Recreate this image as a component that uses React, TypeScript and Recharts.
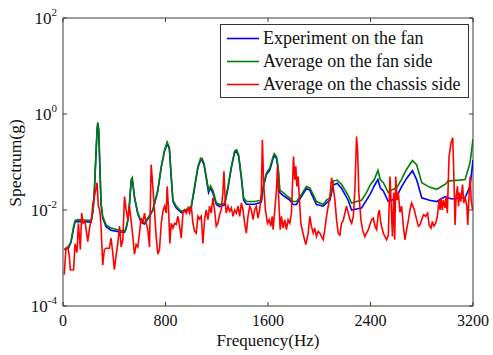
import { LineChart, Line, XAxis, YAxis, Legend, ReferenceArea, Label } from 'recharts'

const W = 493
const H = 355
const PLOT_LEFT = 63
const PLOT_RIGHT = 473
const PLOT_TOP = 18
const XAXIS_H = 49
const PLOT_BOTTOM = H - XAXIS_H
const FONT = '"Liberation Serif", "Times New Roman", serif'

const X_TICKS = [0, 800, 1600, 2400, 3200]
const Y_TICKS = [1e-4, 1e-2, 1, 1e2]
const Y_EXPONENTS = ['-4', '-2', '0', '2']

const SERIES_NAMES = ['Experiment on the fan', 'Average on the fan side', 'Average on the chassis side']

// fan side curves share one frequency grid
const FAN_FREQ = [
    10, 42, 62, 83, 94, 115, 160, 219, 235, 245, 255, 266, 271, 279, 287, 297, 310, 336, 375, 440,
    480, 493, 506, 519, 532, 540, 545, 558, 584, 610, 636, 662, 701, 740, 767, 793, 813, 830, 845, 858,
    884, 923, 962, 1001, 1027, 1053, 1074, 1085, 1100, 1118, 1136, 1152, 1171, 1197, 1223, 1262, 1288, 1314, 1340, 1355,
    1371, 1392, 1410, 1431, 1496, 1548, 1562, 1588, 1614, 1640, 1648, 1666, 1679, 1692, 1718, 1744, 1770, 1796, 1822, 1861,
    1900, 1926, 1953, 1978, 2031, 2057, 2083, 2110, 2140, 2175, 2226, 2252, 2290, 2330, 2369, 2400, 2430, 2458, 2476, 2500,
    2539, 2565, 2604, 2641, 2680, 2727, 2760, 2800, 2860, 2917, 2982, 3005, 3034, 3095, 3138, 3177, 3200,
]

const EXPERIMENT = [
    0.0015, 0.0016, 0.0021, 0.0042, 0.0056, 0.0058, 0.0057, 0.0056, 0.0098, 0.025, 0.1, 0.45, 0.62, 0.45, 0.09, 0.013, 0.0068, 0.0045, 0.0038, 0.0035,
    0.0034, 0.0041, 0.006, 0.013, 0.04, 0.044, 0.035, 0.018, 0.0082, 0.0055, 0.0051, 0.0065, 0.0098, 0.025, 0.078, 0.17, 0.24, 0.19, 0.047, 0.015,
    0.011, 0.0088, 0.0096, 0.0113, 0.029, 0.076, 0.11, 0.11, 0.088, 0.046, 0.023, 0.029, 0.022, 0.013, 0.0118, 0.0128, 0.029, 0.076, 0.16, 0.165,
    0.13, 0.046, 0.016, 0.0132, 0.0132, 0.0145, 0.029, 0.055, 0.068, 0.12, 0.135, 0.12, 0.072, 0.023, 0.02, 0.018, 0.016, 0.013, 0.013, 0.019,
    0.028, 0.026, 0.018, 0.013, 0.012, 0.014, 0.016, 0.033, 0.036, 0.028, 0.016, 0.01, 0.0105, 0.011, 0.016, 0.022, 0.032, 0.043, 0.029, 0.025,
    0.015, 0.016, 0.019, 0.03, 0.045, 0.066, 0.043, 0.018, 0.016, 0.015, 0.019, 0.018, 0.017, 0.018, 0.018, 0.031, 0.11,
]

const FAN_SIDE = [
    0.0015, 0.0017, 0.0022, 0.0046, 0.006, 0.0063, 0.0062, 0.006, 0.0102, 0.026, 0.11, 0.48, 0.67, 0.48, 0.097, 0.014, 0.0074, 0.0049, 0.0042, 0.0038,
    0.0036, 0.0043, 0.0063, 0.014, 0.043, 0.047, 0.037, 0.019, 0.0086, 0.0058, 0.0054, 0.0068, 0.0102, 0.026, 0.081, 0.18, 0.26, 0.2, 0.05, 0.016,
    0.012, 0.0094, 0.0102, 0.012, 0.031, 0.081, 0.12, 0.12, 0.096, 0.05, 0.026, 0.032, 0.025, 0.014, 0.013, 0.014, 0.031, 0.081, 0.17, 0.18,
    0.14, 0.05, 0.018, 0.015, 0.015, 0.016, 0.031, 0.059, 0.075, 0.13, 0.15, 0.13, 0.081, 0.026, 0.023, 0.02, 0.018, 0.015, 0.015, 0.021,
    0.031, 0.029, 0.021, 0.015, 0.013, 0.016, 0.018, 0.04, 0.042, 0.034, 0.02, 0.014, 0.015, 0.016, 0.023, 0.034, 0.043, 0.067, 0.043, 0.037,
    0.023, 0.026, 0.029, 0.043, 0.069, 0.107, 0.088, 0.037, 0.03, 0.027, 0.034, 0.04, 0.041, 0.042, 0.043, 0.096, 0.3,
]

const CHASSIS_FREQ = [
    10, 23, 37, 49, 57, 83, 94, 109, 120, 128, 135, 146, 156, 172, 193, 209, 224, 232, 245, 255,
    266, 276, 287, 297, 310, 323, 336, 362, 375, 388, 401, 414, 428, 441, 454, 467, 480, 493, 506, 519,
    532, 545, 558, 571, 584, 597, 610, 623, 636, 649, 662, 675, 688, 701, 714, 727, 740, 753, 767, 780,
    793, 806, 813, 824, 834, 845, 858, 871, 884, 897, 910, 923, 936, 949, 962, 975, 988, 1001, 1014, 1027,
    1040, 1053, 1066, 1079, 1092, 1105, 1118, 1131, 1144, 1157, 1170, 1183, 1196, 1209, 1222, 1235, 1248, 1256, 1266, 1274,
    1288, 1301, 1314, 1327, 1340, 1353, 1366, 1379, 1392, 1405, 1418, 1431, 1444, 1457, 1470, 1483, 1496, 1509, 1522, 1535,
    1548, 1556, 1567, 1580, 1596, 1609, 1622, 1633, 1640, 1653, 1666, 1674, 1684, 1695, 1705, 1718, 1731, 1744, 1757, 1770,
    1783, 1799, 1809, 1817, 1825, 1835, 1846, 1856, 1867, 1879, 1895, 1914, 1926, 1939, 1953, 1965, 1978, 1992, 2005, 2018,
    2031, 2043, 2057, 2070, 2083, 2096, 2109, 2122, 2135, 2148, 2161, 2174, 2187, 2200, 2213, 2227, 2240, 2253, 2266, 2278,
    2291, 2299, 2309, 2325, 2338, 2356, 2369, 2383, 2396, 2409, 2422, 2435, 2448, 2461, 2469, 2481, 2500, 2513, 2526, 2539,
    2552, 2560, 2571, 2581, 2589, 2597, 2607, 2617, 2630, 2643, 2656, 2669, 2682, 2695, 2708, 2721, 2742, 2760, 2774, 2787,
    2800, 2813, 2831, 2846, 2857, 2872, 2883, 2894, 2909, 2922, 2935, 2943, 2951, 2960, 2969, 2982, 2990, 3000, 3013, 3029,
    3042, 3052, 3060, 3068, 3079, 3087, 3094, 3105, 3118, 3128, 3138, 3152, 3159, 3170, 3178, 3186, 3197,
]

const CHASSIS_SIDE = [
    0.00045, 0.0016, 0.0017, 0.0011, 0.00057, 0.00057, 0.002, 0.0013, 0.0053, 0.0028, 0.0015, 0.0086, 0.0053, 0.0058, 0.0022, 0.0045, 0.0068, 0.013, 0.019, 0.026,
    0.037, 0.012, 0.01, 0.0046, 0.00072, 0.0015, 0.0016, 0.0016, 0.0026, 0.0013, 0.00057, 0.0011, 0.002, 0.0046, 0.0017, 0.0024, 0.019, 0.01, 0.0063, 0.012,
    0.0058, 0.0028, 0.0012, 0.0019, 0.0017, 0.0033, 0.0068, 0.0053, 0.0086, 0.0053, 0.0039, 0.0017, 0.088, 0.031, 0.01, 0.0028, 0.0012, 0.0015, 0.0053, 0.0094,
    0.012, 0.0086, 0.031, 0.01, 0.002, 0.0053, 0.0042, 0.0053, 0.005, 0.0074, 0.0046, 0.0026, 0.0086, 0.01, 0.0086, 0.011, 0.0086, 0.012, 0.0053, 0.0036,
    0.0033, 0.0074, 0.0065, 0.0074, 0.002, 0.0063, 0.01, 0.0063, 0.012, 0.0086, 0.018, 0.01, 0.0046, 0.0053, 0.008, 0.01, 0.023, 0.064, 0.016, 0.0086,
    0.012, 0.0094, 0.011, 0.0074, 0.01, 0.0086, 0.012, 0.0074, 0.014, 0.01, 0.0053, 0.0033, 0.0074, 0.012, 0.01, 0.0063, 0.01, 0.012, 0.0068, 0.01,
    0.023, 0.29, 0.031, 0.01, 0.0053, 0.0063, 0.0046, 0.0074, 0.0039, 0.01, 0.026, 0.081, 0.016, 0.0039, 0.0074, 0.0042, 0.0063, 0.0039, 0.0063, 0.0053,
    0.0086, 0.13, 0.043, 0.081, 0.031, 0.05, 0.016, 0.0053, 0.0039, 0.0028, 0.0019, 0.0033, 0.0074, 0.0046, 0.0033, 0.0042, 0.0028, 0.0036, 0.0033, 0.0028,
    0.0024, 0.0039, 0.0074, 0.012, 0.018, 0.047, 0.031, 0.016, 0.0063, 0.0033, 0.003, 0.0053, 0.006, 0.0086, 0.012, 0.0086, 0.0063, 0.0053, 0.0074, 0.026,
    0.34, 0.18, 0.023, 0.0063, 0.0039, 0.0028, 0.0033, 0.0039, 0.005, 0.0063, 0.0068, 0.0046, 0.0039, 0.0086, 0.01, 0.0053, 0.0033, 0.0028, 0.0024, 0.003,
    0.05, 0.016, 0.0028, 0.023, 0.0024, 0.05, 0.016, 0.023, 0.009, 0.012, 0.0046, 0.0024, 0.0039, 0.006, 0.01, 0.014, 0.01, 0.0063, 0.0046, 0.005,
    0.0063, 0.008, 0.0074, 0.0086, 0.0049, 0.0042, 0.0058, 0.0046, 0.0053, 0.0074, 0.016, 0.01, 0.018, 0.01, 0.016, 0.011, 0.019, 0.0086, 0.13, 0.25,
    0.32, 0.037, 0.0049, 0.019, 0.031, 0.012, 0.023, 0.015, 0.034, 0.014, 0.019, 0.012, 0.0049, 0.023, 0.05, 0.016, 0.01,
]

const toPoints = (freq: number[], values: number[]) => freq.map((f, i) => ({ f, v: values[i] }))

const experimentData = toPoints(FAN_FREQ, EXPERIMENT)
const fanSideData = toPoints(FAN_FREQ, FAN_SIDE)
const chassisData = toPoints(CHASSIS_FREQ, CHASSIS_SIDE)

const AXIS_COLOR = '#3a3a3a'

function XTick(props: any) {
    const { x, payload } = props
    return (
        <g>
            <line x1={x} x2={x} y1={PLOT_BOTTOM} y2={PLOT_BOTTOM - 4} stroke={AXIS_COLOR} />
            <line x1={x} x2={x} y1={PLOT_TOP} y2={PLOT_TOP + 4} stroke={AXIS_COLOR} />
            <text x={x} y={PLOT_BOTTOM + 20} textAnchor="middle" fontFamily={FONT} fontSize={16} fill="#111">
                {payload.value}
            </text>
        </g>
    )
}

function YTick(props: any) {
    const { y, index } = props
    return (
        <g>
            <line x1={PLOT_LEFT} x2={PLOT_LEFT + 4} y1={y} y2={y} stroke={AXIS_COLOR} />
            <line x1={PLOT_RIGHT} x2={PLOT_RIGHT - 4} y1={y} y2={y} stroke={AXIS_COLOR} />
            <text x={PLOT_LEFT - 6} y={y + 6} textAnchor="end" fontFamily={FONT} fontSize={17} fill="#111">
                <tspan>10</tspan>
                <tspan dy={-8} fontSize={11}>{Y_EXPONENTS[index]}</tspan>
            </text>
        </g>
    )
}

function YTitle() {
    return (
        <text
            x={21}
            y={163}
            transform="rotate(-90, 21, 163)"
            textAnchor="middle"
            fontFamily={FONT}
            fontSize={17.5}
            fill="#111"
        >
            Spectrum(g)
        </text>
    )
}

function LegendBox({ payload }: any) {
    const items = [...(payload || [])].sort(
        (a: any, b: any) => SERIES_NAMES.indexOf(a.value) - SERIES_NAMES.indexOf(b.value)
    )
    return (
        <div
            style={{
                width: 247,
                height: 70,
                border: '1px solid #333',
                background: '#fff',
                paddingTop: 2,
                boxSizing: 'content-box',
            }}
        >
            {items.map((entry: any) => (
                <div key={entry.value} style={{ display: 'flex', alignItems: 'center', height: 23 }}>
                    <svg width={42} height={23}>
                        <line x1={6} x2={38} y1={11.5} y2={11.5} stroke={entry.color} strokeWidth={1.6} />
                    </svg>
                    <span style={{ fontFamily: FONT, fontSize: 18, lineHeight: '23px', color: '#111', whiteSpace: 'nowrap' }}>
                        {entry.value}
                    </span>
                </div>
            ))}
        </div>
    )
}

export default function App() {
    return (
        <div style={{ position: 'absolute', left: 0, top: 0, width: W, height: H, background: '#fff' }}>
            <LineChart width={W} height={H} margin={{ top: PLOT_TOP, right: W - PLOT_RIGHT, bottom: 0, left: 0 }}>
                <XAxis
                    type="number"
                    dataKey="f"
                    domain={[0, 3200]}
                    ticks={X_TICKS}
                    height={XAXIS_H}
                    axisLine={false}
                    tickLine={false}
                    tick={<XTick />}
                    allowDataOverflow
                >
                    <Label
                        value="Frequency(Hz)"
                        position="insideBottom"
                        offset={9.5}
                        fontFamily={FONT}
                        fontSize={17}
                        fill="#111"
                    />
                </XAxis>
                <YAxis
                    type="number"
                    scale="log"
                    domain={[1e-4, 1e2]}
                    ticks={Y_TICKS}
                    width={PLOT_LEFT}
                    axisLine={false}
                    tickLine={false}
                    tick={<YTick />}
                    allowDataOverflow
                >
                    <Label content={<YTitle />} />
                </YAxis>
                <ReferenceArea x1={0} x2={3200} y1={1e-4} y2={1e2} fill="none" stroke={AXIS_COLOR} strokeWidth={1} />
                <Legend
                    layout="vertical"
                    align="center"
                    verticalAlign="middle"
                    content={<LegendBox />}
                    wrapperStyle={{ position: 'absolute', left: 220, top: 24, width: 249, height: 73 }}
                />
                <Line
                    data={experimentData}
                    dataKey="v"
                    name={SERIES_NAMES[0]}
                    stroke="#0000ff"
                    strokeWidth={1.6}
                    dot={false}
                    isAnimationActive={false}
                />
                <Line
                    data={fanSideData}
                    dataKey="v"
                    name={SERIES_NAMES[1]}
                    stroke="#008000"
                    strokeWidth={1.6}
                    dot={false}
                    isAnimationActive={false}
                />
                <Line
                    data={chassisData}
                    dataKey="v"
                    name={SERIES_NAMES[2]}
                    stroke="#ff0000"
                    strokeWidth={1.6}
                    dot={false}
                    isAnimationActive={false}
                />
            </LineChart>
        </div>
    )
}
